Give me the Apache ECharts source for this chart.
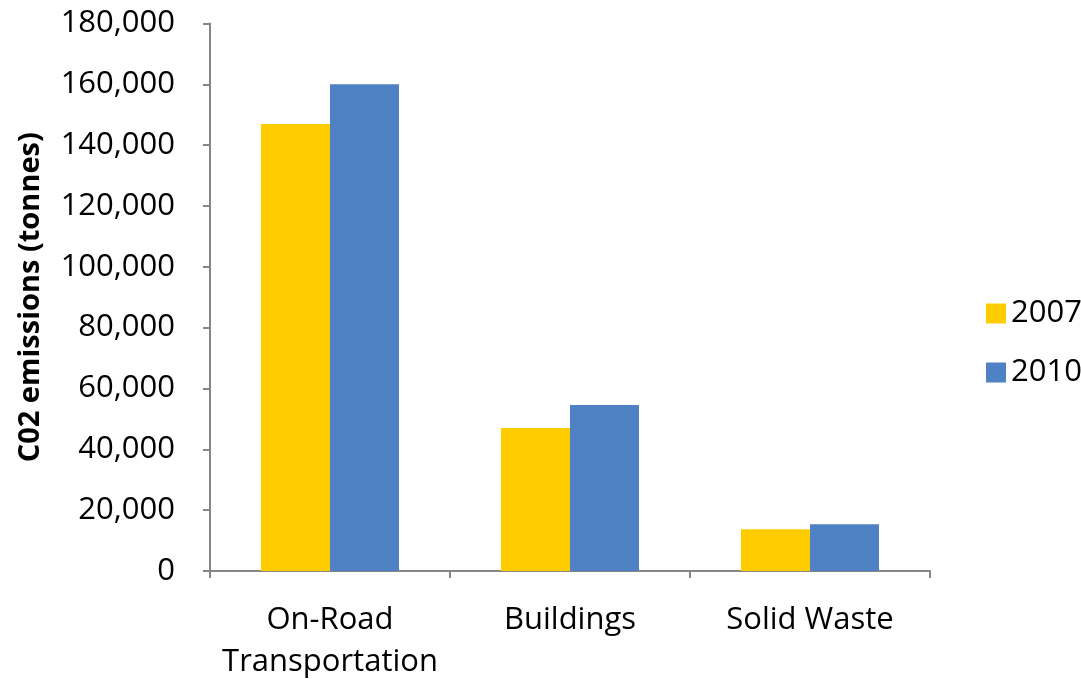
<!DOCTYPE html>
<html>
<head>
<meta charset="utf-8">
<script src="https://cdn.jsdelivr.net/npm/echarts@6/dist/echarts.min.js"></script>
<style>
  html, body { margin: 0; padding: 0; background: #fff; }
  #chart { width: 1081px; height: 679px; }
</style>
</head>
<body>
<div id="chart"></div>
<script>
var categories = ['On-Road\nTransportation', 'Buildings', 'Solid Waste'];
var values2007 = [147000, 47000, 13700];
var values2010 = [160000, 54600, 15400];
var seriesNames = ['2007', '2010'];

var myChart = echarts.init(document.getElementById('chart'));
var font = '"Open Sans", sans-serif';
var axisColor = '#868686';

var option = {
    animation: false,
    color: ['#FFCC00', '#4F81C5'],
    legend: {
        orient: 'vertical',
        left: 981,
        top: 293,
        itemWidth: 20,
        itemHeight: 20,
        itemGap: 28,
        icon: 'rect',
        data: seriesNames,
        textStyle: { fontFamily: font, fontSize: 31, color: '#000', padding: [0, 0, 0, 0] }
    },
    grid: {
        left: 210,
        right: 151,
        top: 23.5,
        bottom: 108,
        outerBoundsMode: 'none'
    },
    xAxis: {
        type: 'category',
        data: categories,
        axisLine: { lineStyle: { color: axisColor, width: 2 } },
        axisTick: { show: true, length: 7, lineStyle: { color: axisColor, width: 2 } },
        axisLabel: {
            interval: 0,
            margin: 28,
            fontFamily: font,
            fontSize: 31,
            color: '#000',
            lineHeight: 42
        }
    },
    yAxis: {
        type: 'value',
        min: 0,
        max: 180000,
        interval: 20000,
        name: 'C02 emissions (tonnes)',
        nameLocation: 'middle',
        nameGap: 165,
        nameTextStyle: { fontFamily: font, fontSize: 29, fontWeight: 'bold', color: '#000' },
        splitLine: { show: false },
        axisLine: { show: true, lineStyle: { color: axisColor, width: 2 } },
        axisTick: { show: true, length: 7, lineStyle: { color: axisColor, width: 2 } },
        axisLabel: {
            margin: 35,
            fontFamily: font,
            fontSize: 31,
            color: '#000',
            formatter: function (v) { return v.toLocaleString('en-US'); }
        }
    },
    series: [
        {
            name: seriesNames[0],
            type: 'bar',
            data: values2007,
            barGap: '0%',
            barCategoryGap: '42.5%'
        },
        {
            name: seriesNames[1],
            type: 'bar',
            data: values2010,
            barGap: '0%',
            barCategoryGap: '42.5%'
        }
    ]
};
myChart.setOption(option);
</script>
</body>
</html>
